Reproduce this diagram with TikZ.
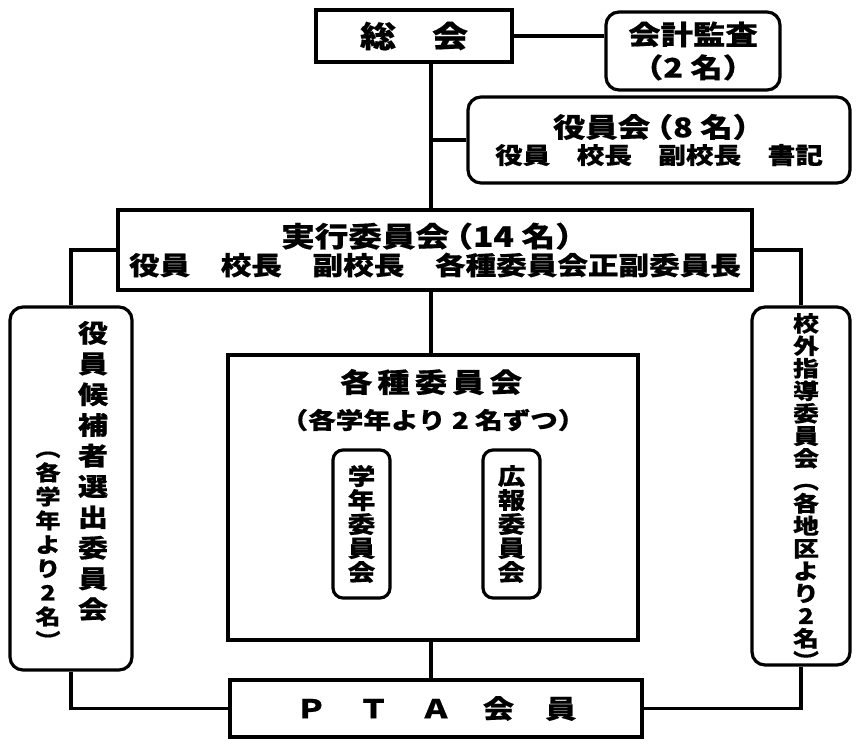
\documentclass[tikz,border=0pt]{standalone}
\usepackage{fontspec}
\setmainfont{Noto Sans CJK JP}[FakeStretch=1.2, BoldFeatures={FakeBold=0.6}]
\newcommand{\lp}{\hspace{-0.35em}（}
\begin{document}
\begin{tikzpicture}[x=1pt,y=-1pt,
  box/.style={draw, line width=3.2pt, inner sep=0pt, align=center},
  rbox/.style={box, rounded corners=13pt},
  conn/.style={line width=3.8pt},
  every node/.append style={font=\bfseries}]
\useasboundingbox (0,0) rectangle (856,740);
% boxes
\node[box, minimum width=196pt, minimum height=52pt, font=\bfseries\fontsize{30}{30}\selectfont] (soukai) at (414,36) {総　会};
\node[rbox, minimum width=174pt, minimum height=78pt, font=\bfseries\fontsize{27}{33}\selectfont] (kansa) at (693,51) {会計監査\\（2 名）};
\node[rbox, minimum width=382pt, minimum height=86pt] (yakuin) at (659,140)
  {\fontsize{27}{30}\selectfont 役員会\lp 8 名）\\[3pt] \fontsize{23}{26}\selectfont 役員\hspace{1.15em}校長\hspace{1.15em}副校長\hspace{1.15em}書記};
\node[box, minimum width=634pt, minimum height=80pt] (jikkou) at (435,250)
  {\fontsize{28}{30}\selectfont 実行委員会\lp 14 名）\\[2pt] \fontsize{25.5}{28}\selectfont 役員　校長　副校長　各種委員会正副委員長};
\node[rbox, minimum width=122pt, minimum height=363pt] (lbox) at (71,488.5) {};
\node[rbox, minimum width=98pt, minimum height=358pt] (rbox) at (801,486) {};
\node[box, minimum width=410pt, minimum height=285pt] (kakushu) at (433,497.5) {};
\node[rbox, rounded corners=10pt, minimum width=57pt, minimum height=148pt, font=\bfseries\fontsize{23}{24}\selectfont] (gakunen) at (361.5,524) {学\\年\\委\\員\\会};
\node[rbox, rounded corners=10pt, minimum width=57pt, minimum height=148pt, font=\bfseries\fontsize{23}{24}\selectfont] (kouhou) at (511.5,524) {広\\報\\委\\員\\会};
\node[box, minimum width=412pt, minimum height=57pt, font=\bfseries\fontsize{26}{30}\selectfont] (pta) at (436,708.5) {Ｐ　Ｔ　Ａ　会　員};
% texts
\node[font=\bfseries\fontsize{27}{30}\selectfont] (kt1) at (431,382) {各\hspace{5pt}種\hspace{5pt}委\hspace{5pt}員\hspace{5pt}会};
\node[font=\bfseries\fontsize{23}{24}\selectfont] (kt2) at (433,420) {（各学年より 2 名ずつ）};
\node[align=center, font=\bfseries\fontsize{25}{30.7}\selectfont] (lt1) at (93,471) {役\\員\\候\\補\\者\\選\\出\\委\\員\\会};
\node[align=center, font=\bfseries\fontsize{21}{24}\selectfont] (lt2) at (48,550) {︵\\各\\学\\年\\よ\\り\\2\\名\\︶};
\node[align=center, font=\bfseries\fontsize{21.5}{22.5}\selectfont] (rt) at (806,491) {校\\外\\指\\導\\委\\員\\会\\︵\\各\\地\\区\\よ\\り\\2\\名\\︶};
% connectors
\coordinate (mx) at (431,0);
\draw[conn] (soukai.east) -- (soukai.east -| kansa.west);
\draw[conn] (soukai.south -| mx) -- (jikkou.north -| mx);
\draw[conn] (yakuin.west) -- (yakuin.west -| mx);
\draw[conn] (jikkou.south -| mx) -- (kakushu.north -| mx);
\draw[conn] (kakushu.south -| mx) -- (pta.north -| mx);
\draw[conn] (jikkou.west) -| (lbox.north);
\draw[conn] (lbox.south) |- (pta.west);
\draw[conn] (jikkou.east) -| (rbox.north);
\draw[conn] (rbox.south) |- (pta.east);
\end{tikzpicture}
\end{document}
